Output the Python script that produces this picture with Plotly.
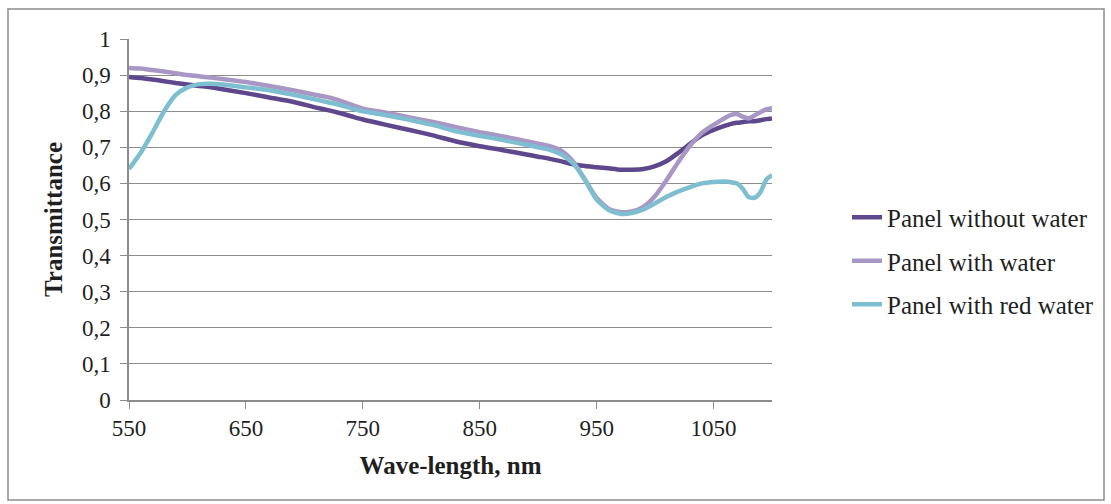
import plotly.graph_objects as go

# Wavelength grid (nm)
wl = [550, 560, 570, 580, 590, 600, 610, 620, 630, 650, 670, 690, 710, 720, 730, 740, 750,
      770, 790, 810, 830, 850, 870, 890, 900, 910, 920, 930, 940, 950, 960, 970, 980,
      990, 1000, 1010, 1020, 1030, 1040, 1050, 1060, 1065, 1070, 1075, 1080, 1085,
      1090, 1095, 1100]

without_water = [0.895, 0.892, 0.888, 0.883, 0.878, 0.874, 0.870, 0.866, 0.861, 0.850, 0.838,
                 0.826, 0.810, 0.803, 0.795, 0.786, 0.777, 0.762, 0.748, 0.733, 0.716, 0.703,
                 0.692, 0.680, 0.674, 0.668, 0.661, 0.653, 0.648, 0.645, 0.642, 0.638, 0.638,
                 0.640, 0.648, 0.662, 0.685, 0.710, 0.733, 0.748, 0.760, 0.765, 0.768, 0.770,
                 0.772, 0.772, 0.775, 0.778, 0.780]

with_water = [0.920, 0.918, 0.914, 0.910, 0.905, 0.900, 0.897, 0.893, 0.889, 0.881, 0.870,
              0.858, 0.845, 0.839, 0.830, 0.818, 0.807, 0.796, 0.783, 0.770, 0.756, 0.742,
              0.730, 0.717, 0.710, 0.703, 0.690, 0.660, 0.610, 0.560, 0.530, 0.521, 0.522,
              0.535, 0.565, 0.610, 0.660, 0.705, 0.740, 0.762, 0.782, 0.790, 0.792, 0.785,
              0.780, 0.788, 0.797, 0.805, 0.808]

red_water = [0.640, 0.685, 0.740, 0.800, 0.845, 0.866, 0.875, 0.876, 0.874, 0.866, 0.858,
             0.846, 0.832, 0.825, 0.818, 0.808, 0.800, 0.789, 0.776, 0.762, 0.744, 0.732,
             0.720, 0.707, 0.700, 0.693, 0.680, 0.655, 0.610, 0.555, 0.527, 0.516, 0.518,
             0.528, 0.545, 0.563, 0.578, 0.590, 0.600, 0.604, 0.605, 0.603, 0.600, 0.585,
             0.562, 0.560, 0.575, 0.610, 0.623]

series_names = ["Panel without water", "Panel with water", "Panel with red water"]
series_colors = ["#5E478C", "#A897C4", "#7DBED0"]
series_values = [without_water, with_water, red_water]

x_ticks = [550, 650, 750, 850, 950, 1050]
y_ticks = [0, 0.1, 0.2, 0.3, 0.4, 0.5, 0.6, 0.7, 0.8, 0.9, 1]
y_tick_text = ["0", "0,1", "0,2", "0,3", "0,4", "0,5", "0,6", "0,7", "0,8", "0,9", "1"]

FONT = "Liberation Serif, Times New Roman, serif"
TXT = "#1F1F1F"
GRID = "#8C8C8C"

fig = go.Figure()
for name, col, vals in zip(series_names, series_colors, series_values):
    fig.add_trace(go.Scatter(x=wl, y=vals, mode="lines", name=name, legendgroup=name,
                             line=dict(color=col, width=4.5, shape="spline", smoothing=0.6)))

fig.update_layout(
    width=1111, height=504,
    margin=dict(l=129, r=339, t=39, b=104, autoexpand=False),
    paper_bgcolor="white", plot_bgcolor="white",
    font=dict(family=FONT, size=23, color=TXT),
    showlegend=True,
    legend=dict(x=(847 - 129) / 643, y=(400 - 261) / 361, xanchor="left", yanchor="middle",
                font=dict(family=FONT, size=25, color=TXT),
                tracegroupgap=8, bgcolor="rgba(0,0,0,0)"),
    xaxis=dict(range=[550, 1100], tickvals=x_ticks, showgrid=False,
               showline=True, linecolor=GRID, linewidth=1.5,
               ticks="outside", ticklen=7, tickcolor=GRID,
               tickfont=dict(family=FONT, size=23, color=TXT),
               title=dict(text="<b>Wave-length, nm</b>", standoff=16,
                          font=dict(family=FONT, size=25, color=TXT))),
    yaxis=dict(range=[0, 1], tickvals=y_ticks, ticktext=y_tick_text,
               showgrid=True, gridcolor=GRID, gridwidth=1.3,
               showline=True, linecolor=GRID, linewidth=1.5,
               ticks="outside", ticklen=7, tickcolor=GRID, ticklabelstandoff=5,
               tickfont=dict(family=FONT, size=23, color=TXT),
               zeroline=False,
               title=dict(text="<b>Transmittance</b>", standoff=12,
                          font=dict(family=FONT, size=25, color=TXT))),
    shapes=[dict(type="rect", xref="paper", yref="paper",
                 x0=(8 - 129) / 643, x1=(1104 - 129) / 643,
                 y0=(400 - 500) / 361, y1=(400 - 9) / 361,
                 line=dict(color=GRID, width=1.5), fillcolor="rgba(0,0,0,0)")],
)

fig.write_html("out.html", config={"displayModeBar": False},
               post_script="document.body.style.margin='0';document.body.style.overflow='hidden';")
